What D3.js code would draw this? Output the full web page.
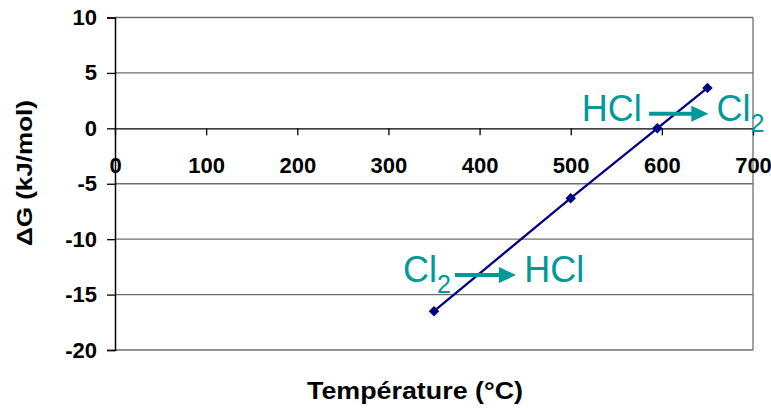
<!DOCTYPE html>
<html>
<head>
<meta charset="utf-8">
<script src="https://cdn.jsdelivr.net/npm/d3@7"></script>
<style>
  body { margin: 0; background: #fff; }
  text { font-family: Arial, "Liberation Sans", sans-serif; }
</style>
</head>
<body>
<svg id="chart" width="771" height="409"></svg>
<script>
// data
var temperature = [350, 500, 595, 650];
var deltaG = [-16.5, -6.3, 0, 3.65];
var xTicks = [0, 100, 200, 300, 400, 500, 600, 700];
var yTicks = [10, 5, 0, -5, -10, -15, -20];
var xTitle = "Température (°C)";
var yTitle = "ΔG (kJ/mol)";
// reaction labels: text start, arrow start/end (in data units)
var reactions = [
    { left: "HCl", right: "Cl", rightSub: "2", leftSub: "", textX: 512, textY: 0.66, arrowX: [586, 651], arrowY: 1.32, rightX: 660 },
    { left: "Cl", leftSub: "2", right: "HCl", rightSub: "", textX: 316, textY: -13.85, arrowX: [373, 440], arrowY: -13.24, rightX: 449 }
];

var margin = { top: 17.5, right: 18, bottom: 59, left: 115 },
    width = 771 - margin.left - margin.right,
    height = 409 - margin.top - margin.bottom;

var svg = d3.select("#chart")
    .append("g")
    .attr("transform", "translate(" + margin.left + "," + margin.top + ")");

var x = d3.scaleLinear().domain([0, 700]).range([0, width]);
var y = d3.scaleLinear().domain([-20, 10]).range([height, 0]);

// gridlines
svg.selectAll(".grid")
    .data(yTicks.filter(function (d) { return d != 0; }))
    .enter().append("line")
    .attr("x1", 0).attr("x2", width)
    .attr("y1", function (d) { return y(d); })
    .attr("y2", function (d) { return y(d); })
    .attr("stroke", "#6e6e6e").attr("stroke-width", 1.3);

// right border
svg.append("line")
    .attr("x1", width).attr("x2", width)
    .attr("y1", 0).attr("y2", height)
    .attr("stroke", "#6e6e6e").attr("stroke-width", 1.3);

// y axis
var yAxis = svg.append("g")
    .call(d3.axisLeft(y).tickValues(yTicks).tickSize(8).tickPadding(10).tickFormat(String));
yAxis.select(".domain").attr("stroke", "#000").attr("stroke-width", 1.5);
yAxis.selectAll(".tick line").attr("stroke", "#000").attr("stroke-width", 1.3);
yAxis.selectAll("text")
    .attr("font-family", "Arial, 'Liberation Sans', sans-serif")
    .attr("font-size", 22).attr("font-weight", "bold").attr("fill", "#000");

// x axis on the zero line
var xAxis = svg.append("g")
    .attr("transform", "translate(0," + y(0) + ")")
    .call(d3.axisBottom(x).tickValues(xTicks).tickSize(7).tickSizeOuter(0).tickPadding(38).tickFormat(String));
xAxis.select(".domain").attr("stroke", "#000").attr("stroke-width", 1.3);
xAxis.selectAll(".tick line").attr("stroke", "#000").attr("stroke-width", 1.3);
xAxis.selectAll("text")
    .attr("font-family", "Arial, 'Liberation Sans', sans-serif")
    .attr("font-size", 22).attr("font-weight", "bold").attr("fill", "#000")
    .attr("dy", "0");

// the series
var points = temperature.map(function (t, i) { return [t, deltaG[i]]; });
svg.append("path")
    .datum(points)
    .attr("fill", "none")
    .attr("stroke", "#000080")
    .attr("stroke-width", 2.3)
    .attr("d", d3.line()
        .x(function (d) { return x(d[0]) })
        .y(function (d) { return y(d[1]) })
    );
svg.selectAll(".pt")
    .data(points)
    .enter().append("path")
    .attr("transform", function (d) { return "translate(" + x(d[0]) + "," + y(d[1]) + ") rotate(45)"; })
    .attr("d", d3.symbol().type(d3.symbolSquare).size(55))
    .attr("fill", "#000080");

// reaction annotations
var teal = "#009999";
reactions.forEach(function (r) {
    var t = svg.append("text")
        .attr("x", x(r.textX)).attr("y", y(r.textY))
        .attr("font-size", 36).attr("fill", teal);
    t.append("tspan").text(r.left);
    if (r.leftSub) t.append("tspan").attr("font-size", 25).attr("dy", 11).text(r.leftSub);

    var t2 = svg.append("text")
        .attr("x", x(r.rightX)).attr("y", y(r.textY))
        .attr("font-size", 36).attr("fill", teal);
    t2.append("tspan").text(r.right);
    if (r.rightSub) t2.append("tspan").attr("font-size", 25).attr("dy", 11).text(r.rightSub);

    var ay = y(r.arrowY), ax0 = x(r.arrowX[0]), ax1 = x(r.arrowX[1]);
    svg.append("line")
        .attr("x1", ax0).attr("x2", ax1 - 14)
        .attr("y1", ay).attr("y2", ay)
        .attr("stroke", teal).attr("stroke-width", 4);
    svg.append("path")
        .attr("d", "M" + ax1 + "," + ay + "L" + (ax1 - 17) + "," + (ay - 8) + "L" + (ax1 - 17) + "," + (ay + 8) + "Z")
        .attr("fill", teal);
});

// axis titles
svg.append("text")
    .attr("x", 307 - margin.left).attr("y", height + 49)
    .attr("textLength", 216).attr("lengthAdjust", "spacingAndGlyphs")
    .attr("font-size", 23).attr("font-weight", "bold")
    .text(xTitle);

svg.append("text")
    .attr("transform", "translate(" + (32 - margin.left) + "," + (246 - margin.top) + ") rotate(-90)")
    .attr("textLength", 146).attr("lengthAdjust", "spacingAndGlyphs")
    .attr("font-size", 22).attr("font-weight", "bold")
    .text(yTitle);
</script>
</body>
</html>
